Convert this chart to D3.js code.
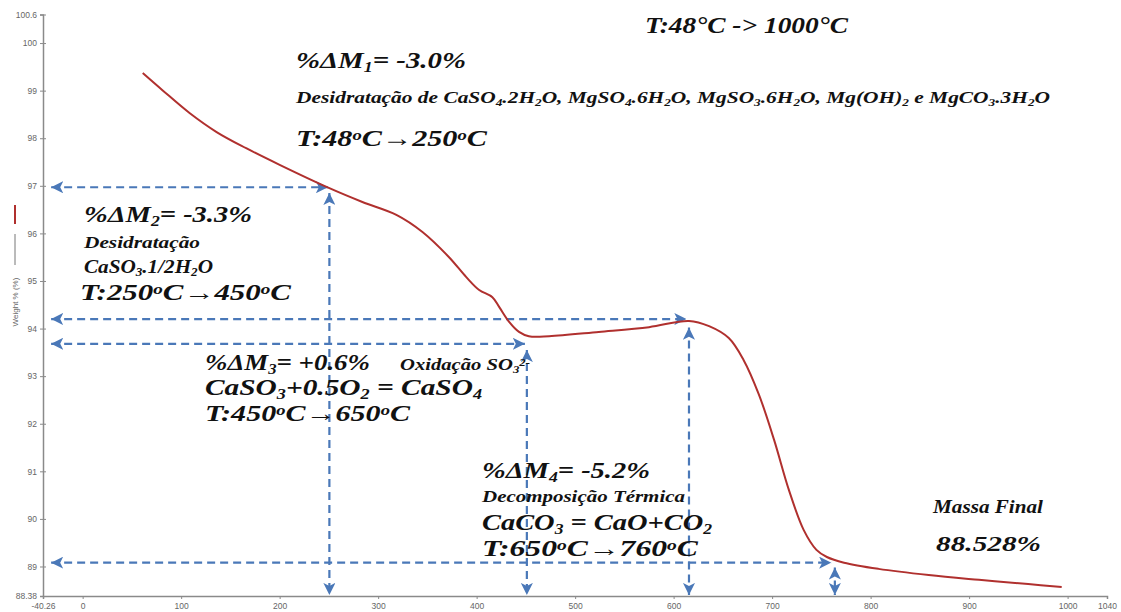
<!DOCTYPE html>
<html><head><meta charset="utf-8">
<script src="https://cdn.jsdelivr.net/npm/d3@7"></script>
<style>
body{margin:0;background:#fff;}
svg{display:block;}
.ann{font-family:"Liberation Serif","Times New Roman",serif;font-weight:bold;font-style:italic;fill:#111;}
.tick text{font-family:"Liberation Sans",Arial,sans-serif;font-size:8.5px;fill:#666;}
</style></head>
<body>
<svg id="chart" width="1121" height="612"></svg>
<script>
// ---- data ----
const temperature = [61, 81, 108.5, 136, 166, 200, 250.5, 284, 318.5, 345, 372, 389.5, 402.6, 416, 423, 433, 443, 453, 473.6, 524, 575, 615.6, 636, 656, 671, 686.6, 702, 717, 732, 745, 755.6, 773, 808, 859, 910, 960, 994];
const weight = [99.37, 99.01, 98.53, 98.13, 97.79, 97.44, 96.95, 96.66, 96.39, 96.03, 95.50, 95.08, 94.81, 94.66, 94.45, 94.14, 93.93, 93.84, 93.84, 93.93, 94.03, 94.16, 94.05, 93.80, 93.34, 92.61, 91.66, 90.61, 89.77, 89.35, 89.20, 89.08, 88.95, 88.82, 88.72, 88.63, 88.57];
const xTickValues = [-40.26, 0, 100, 200, 300, 400, 500, 600, 700, 800, 900, 1000, 1040];
const yTickValues = [88.38, 89, 90, 91, 92, 93, 94, 95, 96, 97, 98, 99, 100, 100.6];
// dashed guide arrows: horizontal (weight level, from T to T) and vertical (temperature, from W to axis)
const hGuideW = [96.97, 94.2, 93.68, 89.08];
const hGuideFrom = [-32, -32, -32, -32];
const hGuideTo = [249, 613, 449, 760];
const vGuideT = [250.5, 451, 615.6, 763.7];
const vGuideTop = [96.85, 93.55, 94.02, 88.98];

// ---- layout ----
const svg = d3.select("#chart");
const x = d3.scaleLinear().domain([-40.26, 1040]).range([43, 1107]);
const y = d3.scaleLinear().domain([88.38, 100.6]).range([596, 14.5]);
const axisColor = "#8a8a8a";
const blue = "#4a78b8";
const red = "#b0302e";

const defs = svg.append("defs");
defs.append("marker").attr("id", "arr").attr("viewBox", "0 0 10 10")
  .attr("refX", 10).attr("refY", 5).attr("markerWidth", 5.5).attr("markerHeight", 5.5)
  .attr("orient", "auto-start-reverse").attr("markerUnits", "strokeWidth")
  .append("path").attr("d", "M0,0 L10,5 L0,10 L2.5,5 Z").attr("fill", blue);

// axes
const xAxis = svg.append("g").attr("transform", `translate(0,${y(88.38)})`)
  .call(d3.axisBottom(x).tickValues(xTickValues).tickSize(3).tickFormat(d => d));
const yAxis = svg.append("g").attr("transform", `translate(${x(-40.26)},0)`)
  .call(d3.axisLeft(y).tickValues(yTickValues).tickSize(3).tickFormat(d => d));
[xAxis, yAxis].forEach(g => {
  g.select(".domain").attr("stroke", axisColor).attr("stroke-width", 1.5);
  g.selectAll(".tick line").attr("stroke", axisColor);
});
yAxis.selectAll(".tick line").attr("x1", -3).attr("x2", 3);
yAxis.selectAll(".tick text").attr("x", -6);
xAxis.selectAll(".tick text").attr("y", 7);

// legend / y title
svg.append("line").attr("x1", 15).attr("x2", 15).attr("y1", 205).attr("y2", 224).attr("stroke", red).attr("stroke-width", 2);
svg.append("line").attr("x1", 15).attr("x2", 15).attr("y1", 234).attr("y2", 265).attr("stroke", "#777").attr("stroke-width", 1);
svg.append("text").attr("transform", "translate(18,302) rotate(-90)").attr("text-anchor", "middle")
  .style("font-family", "Liberation Sans, Arial, sans-serif").style("font-size", "8px").style("fill", "#666")
  .text("Weight % (%)");

// guide arrows
const guides = svg.append("g").attr("stroke", blue).attr("stroke-width", 2.2).attr("stroke-dasharray", "8,5").attr("fill", "none");
hGuideW.forEach((w, i) => {
  guides.append("line").attr("x1", x(hGuideFrom[i])).attr("x2", x(hGuideTo[i])).attr("y1", y(w)).attr("y2", y(w))
    .attr("marker-start", "url(#arr)").attr("marker-end", "url(#arr)");
});
vGuideT.forEach((t, i) => {
  guides.append("line").attr("x1", x(t)).attr("x2", x(t)).attr("y1", y(vGuideTop[i])).attr("y2", y(88.38) - 1)
    .attr("marker-start", "url(#arr)").attr("marker-end", "url(#arr)");
});

// curve
const pts = temperature.map((t, i) => [t, weight[i]]);
svg.append("path").datum(pts)
  .attr("d", d3.line().x(d => x(d[0])).y(d => y(d[1])).curve(d3.curveCatmullRom.alpha(0.5)))
  .attr("fill", "none").attr("stroke", red).attr("stroke-width", 2);

// annotations: parts [text, kind] where kind: b subscript, p superscript
function ann(px, py, size, parts, len) {
  const t = svg.append("text").attr("class", "ann").attr("x", px).attr("y", py).style("font-size", size + "px");
  parts.forEach(p => {
    const s = t.append("tspan").text(p[0]);
    if (p[1] === "b") s.attr("baseline-shift", "-25%").style("font-size", (size * 0.62) + "px");
    if (p[1] === "p") s.attr("baseline-shift", "40%").style("font-size", (size * 0.62) + "px");
  });
  if (len) t.attr("textLength", len).attr("lengthAdjust", "spacingAndGlyphs");
  return t;
}
ann(645, 33, 24, [["T:48°C -> 1000°C"]], 203);
ann(296, 68, 24, [["%ΔM"], ["1", "b"], ["= -3.0%"]], 170);
ann(296, 103, 17.5, [["Desidratação de CaSO"], ["4", "b"], [".2H"], ["2", "b"], ["O, MgSO"], ["4", "b"], [".6H"], ["2", "b"], ["O, MgSO"], ["3", "b"], [".6H"], ["2", "b"], ["O, Mg(OH)"], ["2", "b"], [" e MgCO"], ["3", "b"], [".3H"], ["2", "b"], ["O"]], 754);
ann(296, 146, 24, [["T:48"], ["o", "p"], ["C→250"], ["o", "p"], ["C"]], 191);
ann(84, 222, 23, [["%ΔM"], ["2", "b"], ["= -3.3%"]], 168);
ann(84, 248, 17.5, [["Desidratação"]], 116);
ann(84, 273, 18.5, [["CaSO"], ["3", "b"], [".1/2H"], ["2", "b"], ["O"]], 129);
ann(80, 300, 23, [["T:250"], ["o", "p"], ["C→450"], ["o", "p"], ["C"]], 211);
ann(205, 370, 23, [["%ΔM"], ["3", "b"], ["= +0.6%"]], 165);
ann(400, 370, 17, [["Oxidação SO"], ["3", "b"], ["2-", "p"]], 130);
ann(205, 395, 24, [["CaSO"], ["3", "b"], ["+0.5O"], ["2", "b"], [" = CaSO"], ["4", "b"]], 277);
ann(205, 421, 23, [["T:450"], ["o", "p"], ["C→650"], ["o", "p"], ["C"]], 205);
ann(482, 478, 23, [["%ΔM"], ["4", "b"], ["= -5.2%"]], 168);
ann(482, 502, 17.5, [["Decomposição Térmica"]], 203);
ann(482, 530, 24, [["CaCO"], ["3", "b"], [" = CaO+CO"], ["2", "b"]], 230);
ann(482, 556, 23, [["T:650"], ["o", "p"], ["C→760"], ["o", "p"], ["C"]], 216);
ann(933, 513, 18, [["Massa Final"]], 110);
ann(936, 551, 22, [["88.528%"]], 105);
</script>
</body></html>
